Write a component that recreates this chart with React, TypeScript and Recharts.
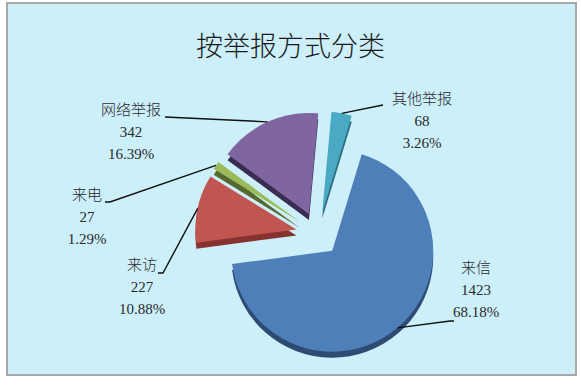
import { PieChart, Pie, Cell } from "recharts";

const categories = ["来信", "来访", "来电", "网络举报", "其他举报"];
const counts = [1423, 227, 27, 342, 68];

const colors = ["#4F7FB8", "#C0564F", "#9BBB59", "#8066A0", "#4BAAC3"];
const sideColors = ["#2D4B73", "#87322F", "#56692F", "#3B2C52", "#2B6E80"];

// label block centre (middle line) and leader elbow/end, relative to the pie centre
const labelCenters = [
  [158, 58],
  [-176, 55],
  [-231, -15],
  [-187, -100],
  [104, -111],
];
const leaderPoints = [
  [[132, 87], [136, 87]],
  [[-155, 39], [-160, 39]],
  [[-208, -32], [-213, -32]],
  [[-153, -117], [-153, -117]],
  [[65, -129], [65, -129]],
];

const CX = 318;
const CY = 234;
const R = 101;
const EXPLODE = 22;
const FIRST = 73;
const DEPTH = 6;
const RAD = Math.PI / 180;

const total = counts.reduce((a, b) => a + b, 0);
const data = categories.map((name, i) => ({ name, value: counts[i] }));

const midAngles: number[] = [];
let acc = 0;
counts.forEach((v) => {
  midAngles.push(FIRST - 360 * ((acc + v / 2) / total));
  acc += v;
});

const shift = (i: number) => {
  const a = midAngles[i] * RAD;
  return [EXPLODE * Math.cos(a), -EXPLODE * Math.sin(a)];
};

const font = "'Liberation Serif', 'Noto Sans CJK SC', serif";

function renderLabel(props: any) {
  const i = props.index as number;
  const [ox, oy] = shift(i);
  const a = midAngles[i] * RAD;
  const sx = CX + ox + R * Math.cos(a);
  const sy = CY + oy - R * Math.sin(a);
  const [elbow, end] = leaderPoints[i];
  const [tx, ty] = labelCenters[i];
  const x = CX + tx;
  const y = CY + ty;
  const pct = ((counts[i] / total) * 100).toFixed(2) + "%";
  return (
    <g key={"lab" + i}>
      <polyline
        points={`${sx},${sy} ${CX + elbow[0]},${CY + elbow[1]} ${CX + end[0]},${CY + end[1]}`}
        fill="none"
        stroke="#111"
        strokeWidth={1.4}
      />
      <text
        x={x}
        textAnchor="middle"
        dominantBaseline="middle"
        fontFamily={font}
        fontSize={15}
        fontWeight={300}
        fill="#2a2a2a"
      >
        <tspan x={x} y={y - 22}>{categories[i]}</tspan>
        <tspan x={x} y={y}>{counts[i]}</tspan>
        <tspan x={x} y={y + 22}>{pct}</tspan>
      </text>
    </g>
  );
}

export default function App() {
  return (
    <div style={{ position: "absolute", left: 0, top: 0, width: 581, height: 385 }}>
      <div
        style={{
          position: "absolute",
          left: 6,
          top: 2,
          width: 567,
          height: 370,
          background: "#CCEFFA",
          border: "2px solid #A8A8A8",
        }}
      />
      <div
        style={{
          position: "absolute",
          left: 0,
          top: 27,
          width: 581,
          textAlign: "center",
          fontFamily: "'Noto Sans CJK SC', sans-serif",
          fontWeight: 300,
          fontSize: 27,
          lineHeight: "36px",
          color: "#1a1a1a",
        }}
      >
        按举报方式分类
      </div>
      <div style={{ position: "absolute", left: 0, top: 0 }}>
        <PieChart width={581} height={385} margin={{ top: 0, right: 0, bottom: 0, left: 0 }}>
          <Pie
            data={data}
            dataKey="value"
            cx={CX}
            cy={CY + DEPTH}
            outerRadius={R}
            startAngle={FIRST}
            endAngle={FIRST - 360}
            stroke="none"
            isAnimationActive={false}
          >
            {data.map((d, i) => {
              const [ox, oy] = shift(i);
              return (
                <Cell
                  key={d.name}
                  fill={sideColors[i]}
                  transform={`translate(${ox},${oy})`}
                />
              );
            })}
          </Pie>
          <Pie
            data={data}
            dataKey="value"
            cx={CX}
            cy={CY}
            outerRadius={R}
            startAngle={FIRST}
            endAngle={FIRST - 360}
            stroke="none"
            labelLine={false}
            label={renderLabel}
            isAnimationActive={false}
          >
            {data.map((d, i) => {
              const [ox, oy] = shift(i);
              return (
                <Cell
                  key={d.name}
                  fill={colors[i]}
                  transform={`translate(${ox},${oy})`}
                />
              );
            })}
          </Pie>
        </PieChart>
      </div>
    </div>
  );
}
